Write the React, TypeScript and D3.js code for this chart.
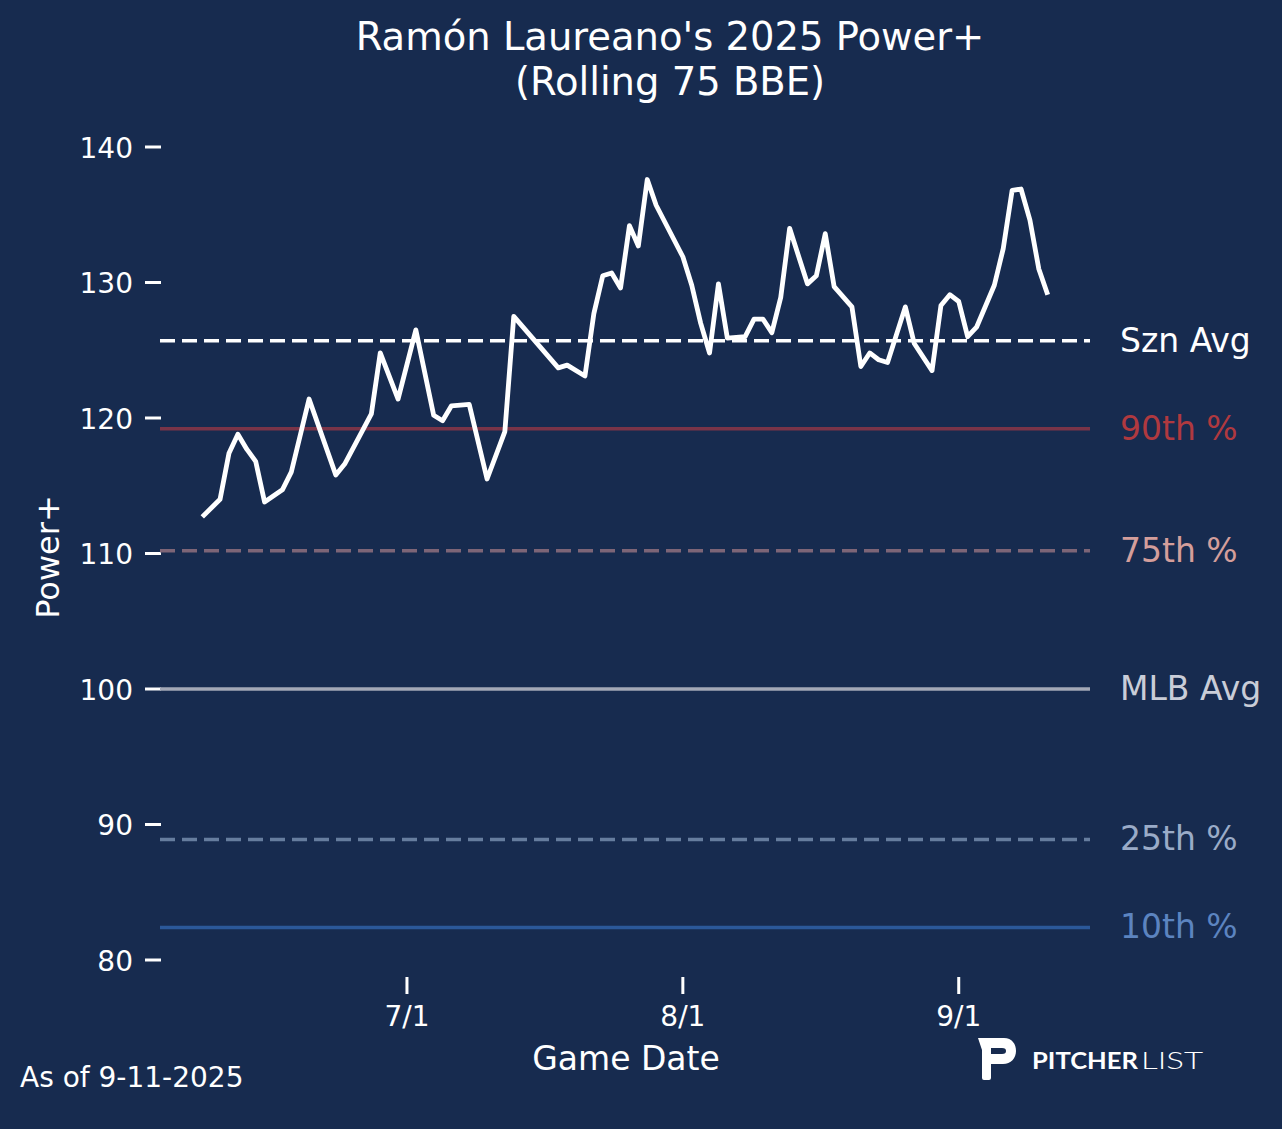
import React from "react";
import * as d3 from "d3";

// rolling 75 BBE Power+ by game date (2025)
const gameDates = [
  "06-08", "06-10", "06-11", "06-12", "06-13", "06-14", "06-15", "06-17", "06-18", "06-20",
  "06-23", "06-24", "06-27", "06-28", "06-30", "07-02", "07-04", "07-05", "07-06", "07-08",
  "07-10", "07-12", "07-13", "07-18", "07-19", "07-21", "07-22", "07-23", "07-24", "07-25",
  "07-26", "07-27", "07-28", "07-29", "08-01", "08-02", "08-03", "08-04", "08-05", "08-06",
  "08-08", "08-09", "08-10", "08-11", "08-12", "08-13", "08-15", "08-16", "08-17", "08-18",
  "08-20", "08-21", "08-22", "08-23", "08-24", "08-26", "08-27", "08-29", "08-30", "08-31",
  "09-01", "09-02", "09-03", "09-05", "09-06", "09-07", "09-08", "09-09", "09-10", "09-11",
];
const powerPlus = [
  112.7, 114.0, 117.4, 118.8, 117.7, 116.8, 113.8, 114.7, 116.0, 121.4,
  115.8, 116.6, 120.3, 124.8, 121.4, 126.5, 120.2, 119.8, 120.9, 121.0,
  115.5, 119.0, 127.5, 123.7, 123.9, 123.1, 127.7, 130.5, 130.7, 129.6,
  134.2, 132.7, 137.6, 135.7, 131.9, 129.8, 127.0, 124.8, 129.9, 125.9,
  126.0, 127.3, 127.3, 126.3, 128.9, 134.0, 129.9, 130.5, 133.6, 129.7,
  128.2, 123.8, 124.8, 124.3, 124.1, 128.2, 125.5, 123.5, 128.3, 129.1,
  128.6, 126.0, 126.7, 129.8, 132.5, 136.8, 136.9, 134.6, 131.0, 129.1,
];

// reference lines
const refLabels = ["Szn Avg", "90th %", "75th %", "MLB Avg", "25th %", "10th %"];
const refValues = [125.7, 119.2, 110.2, 100, 88.9, 82.4];
const refDashed = [true, false, true, false, true, false];
const refLineColors = ["#ffffff", "#7a3448", "#7d6577", "#a3a8b6", "#667d9e", "#2b5899"];
const refTextColors = ["#ffffff", "#b0393f", "#d49e9b", "#c9cdd8", "#9aabc8", "#5c84c0"];

const yTicks = [80, 90, 100, 110, 120, 130, 140];
const xTickDates = ["07-01", "08-01", "09-01"];
const xTickLabels = ["7/1", "8/1", "9/1"];

const BG = "#172b4f";
const FONT = "'DejaVu Sans', sans-serif";
const W = 1282;
const H = 1129;

const parse = (s: string) => new Date(Date.UTC(2025, +s.slice(0, 2) - 1, +s.slice(3)));

export default function App() {
  const points = gameDates.map((d, i) => ({ date: parse(d), v: powerPlus[i] }));
  const [d0, d1] = d3.extent(points, (p) => p.date) as [Date, Date];
  const pad = (d1.getTime() - d0.getTime()) * 0.05;

  const x = d3
    .scaleUtc()
    .domain([new Date(d0.getTime() - pad), new Date(d1.getTime() + pad)])
    .range([160, 1090]);
  const y = d3.scaleLinear().domain([80, 140]).range([960, 147]);

  const line = d3
    .line<{ date: Date; v: number }>()
    .x((p) => x(p.date))
    .y((p) => y(p.v));

  const [xl, xr] = x.range();

  return (
    <svg
      width={W}
      height={H}
      style={{ position: "absolute", left: 0, top: 0, display: "block" }}
      fontFamily={FONT}
    >
      <rect width={W} height={H} fill={BG} />

      {/* title */}
      <text x={670} y={50} fill="#fff" fontSize={38.5} textAnchor="middle">
        Ramón Laureano's 2025 Power+
      </text>
      <text x={670} y={95} fill="#fff" fontSize={38.5} textAnchor="middle">
        (Rolling 75 BBE)
      </text>

      {/* y axis */}
      {yTicks.map((t) => (
        <g key={t}>
          <line x1={145} x2={161} y1={y(t)} y2={y(t)} stroke="#fff" strokeWidth={3} />
          <text x={133} y={y(t) + 10.5} fill="#fff" fontSize={28} textAnchor="end">
            {t}
          </text>
        </g>
      ))}
      <text
        transform={`translate(59,557) rotate(-90)`}
        fill="#fff"
        fontSize={32}
        textAnchor="middle"
      >
        Power+
      </text>

      {/* x axis */}
      {xTickDates.map((d, i) => (
        <g key={d}>
          <line x1={x(parse(d))} x2={x(parse(d))} y1={977} y2={994} stroke="#fff" strokeWidth={3} />
          <text x={x(parse(d))} y={1026} fill="#fff" fontSize={28} textAnchor="middle">
            {xTickLabels[i]}
          </text>
        </g>
      ))}
      <text x={626} y={1070} fill="#fff" fontSize={33} textAnchor="middle">
        Game Date
      </text>

      {/* reference lines */}
      {refValues.map((v, i) => (
        <g key={refLabels[i]}>
          <line
            x1={xl}
            x2={xr}
            y1={y(v)}
            y2={y(v)}
            stroke={refLineColors[i]}
            strokeWidth={3.5}
            strokeDasharray={refDashed[i] ? "15 7" : undefined}
          />
          <text x={1120} y={y(v) + 11} fill={refTextColors[i]} fontSize={33}>
            {refLabels[i]}
          </text>
        </g>
      ))}

      {/* power+ line */}
      <path
        d={line(points) ?? ""}
        fill="none"
        stroke="#fff"
        strokeWidth={4.8}
        strokeLinejoin="round"
      />

      {/* footer */}
      <text x={20} y={1087} fill="#fff" fontSize={28}>
        As of 9-11-2025
      </text>

      {/* logo */}
      <path
        fillRule="evenodd"
        fill="#fff"
        d="M978,1038 L1004,1038 C1012,1038 1016,1044 1016,1051 C1016,1058 1011,1064 1003,1064 L991,1064 L991,1078 Q991,1080 989,1080 L984,1080 Q982,1080 982,1078 L982,1050 Z M991,1048 L1002,1048 C1005,1048 1006,1049 1006,1051 C1006,1053 1005,1054 1002,1054 L991,1054 Z"
      />
      <text
        x={1032}
        y={1069}
        fill="#fff"
        fontSize={23}
        fontWeight={700}
        fontFamily="Lato, 'DejaVu Sans', sans-serif"
        textLength={106}
        lengthAdjust="spacingAndGlyphs"
      >
        PITCHER
      </text>
      <text
        x={1141}
        y={1069}
        fill="#fff"
        fontSize={23}
        fontWeight={300}
        fontFamily="Lato, 'DejaVu Sans', sans-serif"
        textLength={62}
        lengthAdjust="spacingAndGlyphs"
      >
        LIST
      </text>
    </svg>
  );
}
